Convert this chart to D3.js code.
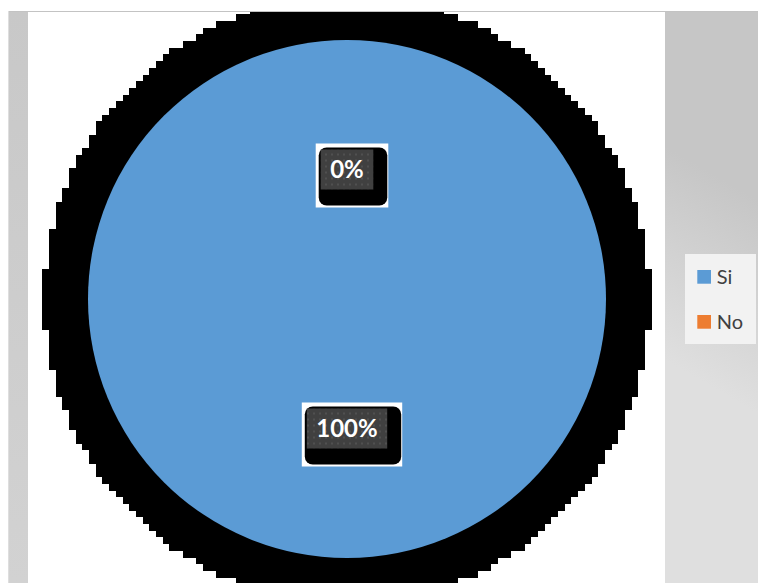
<!DOCTYPE html>
<html>
<head>
<meta charset="utf-8">
<script src="https://cdn.jsdelivr.net/npm/d3@7"></script>
<style>
  html, body { margin: 0; padding: 0; background: #ffffff; }
  svg { display: block; }
</style>
</head>
<body>
<svg id="chart" width="758" height="583"></svg>
<script>
// Survey answers
const categories = ["Si", "No"];
const values = [100, 0];
const colors = ["#5B9BD5", "#ED7D31"];

const W = 758, H = 583;
const svg = d3.select("#chart");
const defs = svg.append("defs");

// ---- chart area background ----
const gRight = defs.append("linearGradient").attr("id", "gRight")
  .attr("gradientUnits", "userSpaceOnUse")
  .attr("x1", 665).attr("y1", 360).attr("x2", 758).attr("y2", 200);
gRight.append("stop").attr("offset", 0).attr("stop-color", "#dfdfdf");
gRight.append("stop").attr("offset", 1).attr("stop-color", "#c6c6c6");

const gLeft = defs.append("linearGradient").attr("id", "gLeft")
  .attr("x1", 0).attr("y1", 0).attr("x2", 0).attr("y2", 1);
gLeft.append("stop").attr("offset", 0).attr("stop-color", "#c8c8c8");
gLeft.append("stop").attr("offset", 1).attr("stop-color", "#d2d2d2");

const plot = { x0: 28, y0: 12, x1: 665, y1: H };

svg.append("rect").attr("x", 8).attr("y", 11).attr("width", plot.x0 - 8).attr("height", H - 11)
  .attr("fill", "url(#gLeft)");
svg.append("rect").attr("x", plot.x1).attr("y", 11).attr("width", W - plot.x1).attr("height", H - 11)
  .attr("fill", "url(#gRight)");
svg.append("rect").attr("x", plot.x0).attr("y", plot.y0)
  .attr("width", plot.x1 - plot.x0).attr("height", plot.y1 - plot.y0).attr("fill", "#ffffff");
// frame edges
svg.append("line").attr("x1", 8).attr("x2", W).attr("y1", 11.5).attr("y2", 11.5)
  .attr("stroke", "#c3c3c3").attr("stroke-width", 1);
svg.append("line").attr("x1", 8.5).attr("x2", 8.5).attr("y1", 11).attr("y2", H)
  .attr("stroke", "#dedede").attr("stroke-width", 1);

// ---- pie geometry ----
const cx = 347, cy = 299, R = 259;
const shadowR = 303, cell = 6.7;

defs.append("clipPath").attr("id", "plotClip").append("rect")
  .attr("x", plot.x0).attr("y", plot.y0)
  .attr("width", plot.x1 - plot.x0).attr("height", plot.y1 - plot.y0);

// blocky dark halo behind the pie, built row by row on a cell grid
const n = Math.ceil(shadowR / cell) + 1;
let halo = "";
for (let j = -n; j <= n; j++) {
  let lo = null, hi = null;
  for (let i = -n; i <= n; i++) {
    if (Math.hypot(i * cell, j * cell) <= shadowR) {
      if (lo === null) lo = i;
      hi = i;
    }
  }
  if (lo === null) continue;
  const x = cx + (lo - 0.5) * cell, y = cy + (j - 0.5) * cell;
  const w = (hi - lo + 1) * cell, h = cell + 0.6;
  halo += `M${x},${y}h${w}v${h}h${-w}Z`;
}
svg.append("path").attr("d", halo).attr("fill", "#000000")
  .attr("shape-rendering", "crispEdges").attr("clip-path", "url(#plotClip)");

const pie = d3.pie().sort(null).value(d => d.value);
const data = categories.map((c, i) => ({ category: c, value: values[i], color: colors[i] }));
const arcs = pie(data);
const arc = d3.arc().innerRadius(0).outerRadius(R);
const total = d3.sum(values);
const fmt = d3.format(".0%");

const g = svg.append("g").attr("transform", `translate(${cx},${cy})`);
g.selectAll("path.slice").data(arcs).join("path")
  .attr("class", "slice")
  .attr("d", arc)
  .attr("fill", d => d.data.color);

// ---- data labels ----
const pat = defs.append("pattern").attr("id", "dots")
  .attr("patternUnits", "userSpaceOnUse").attr("width", 6).attr("height", 6);
pat.append("rect").attr("width", 6).attr("height", 6).attr("fill", "#404040");
pat.append("circle").attr("cx", 3).attr("cy", 3).attr("r", 0.9).attr("fill", "#585858");

const labelFont = "bold 24px Lato, 'Liberation Sans', sans-serif";
const measure = document.createElement("canvas").getContext("2d");
measure.font = labelFont;

const labels = g.selectAll("g.label").data(arcs).join("g")
  .attr("class", "label")
  .attr("transform", d => { const [x, y] = arc.centroid(d); return `translate(${x},${y})`; });

labels.each(function (d) {
  const sel = d3.select(this);
  const txt = fmt(d.data.value / total);
  const tw = measure.measureText(txt).width;
  const bw = tw + 19, bh = 40;
  const x0 = -bw / 2, y0 = -bh / 2, x1 = bw / 2, y1 = bh / 2;
  sel.append("rect").attr("x", x0 - 5).attr("y", y0 - 6)
    .attr("width", (x1 + 15) - (x0 - 5)).attr("height", (y1 + 18) - (y0 - 6))
    .attr("fill", "#ffffff");
  sel.append("rect").attr("x", x0 - 2).attr("y", y0 - 2)
    .attr("width", (x1 + 14) - (x0 - 2)).attr("height", (y1 + 16) - (y0 - 2))
    .attr("rx", 8).attr("ry", 8).attr("fill", "#000000");
  sel.append("rect").attr("x", x0).attr("y", y0).attr("width", bw).attr("height", bh)
    .attr("fill", "url(#dots)");
  sel.append("text").attr("x", 0).attr("y", 8.6)
    .attr("text-anchor", "middle")
    .style("font", labelFont)
    .attr("fill", "#ffffff")
    .text(txt);
});

// ---- legend ----
const legend = svg.append("g");
legend.append("rect").attr("x", 685).attr("y", 254).attr("width", 71).attr("height", 90)
  .attr("fill", "#f2f2f2");
const item = legend.selectAll("g.item").data(data).join("g")
  .attr("class", "item")
  .attr("transform", (d, i) => `translate(697.3,${270 + i * 45})`);
item.append("rect").attr("width", 13.7).attr("height", 13.7).attr("fill", d => d.color);
item.append("text").attr("x", 19.4).attr("y", 13.7)
  .style("font", "20px Lato, 'Liberation Sans', sans-serif")
  .attr("fill", "#404040")
  .text(d => d.category);
</script>
</body>
</html>
